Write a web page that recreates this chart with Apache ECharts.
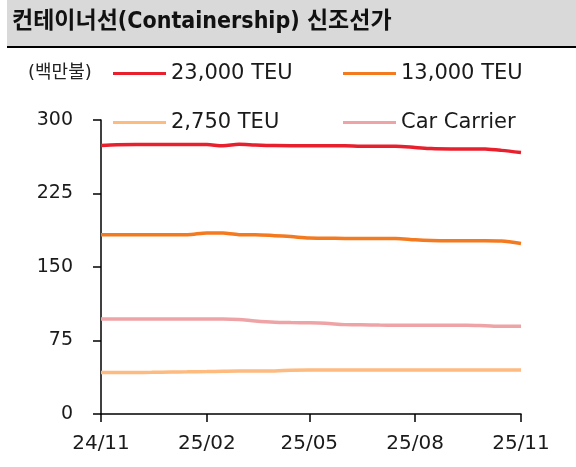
<!DOCTYPE html>
<html>
<head>
<meta charset="utf-8">
<script src="https://cdn.jsdelivr.net/npm/echarts@6/dist/echarts.min.js"></script>
<style>
  html, body { margin: 0; padding: 0; background: #fff; }
  #chart { width: 576px; height: 467px; }
</style>
</head>
<body>
<div id="chart"></div>
<script>
// 날짜 (반월 단위)
var dates = [
  '2024-11-01', '2024-11-15', '2024-12-01', '2024-12-15', '2025-01-01', '2025-01-15',
  '2025-02-01', '2025-02-15', '2025-03-01', '2025-03-15', '2025-04-01', '2025-04-15',
  '2025-05-01', '2025-05-15', '2025-06-01', '2025-06-15', '2025-07-01', '2025-07-15',
  '2025-08-01', '2025-08-15', '2025-09-01', '2025-09-15', '2025-10-01', '2025-10-15',
  '2025-11-01'
];
var teu23000 = [274, 274.8, 275, 275, 275, 275, 274.9, 273.6, 275.2, 274.5, 273.9, 273.8,
  273.8, 273.8, 273.8, 273.2, 273.2, 273.2, 272, 270.8, 270.5, 270.5, 270.3, 269, 266.8];
var teu13000 = [183, 183, 183, 183, 183, 183, 184.8, 184.6, 183, 183, 182, 181,
  179.5, 179.3, 179.2, 179.2, 179.2, 179.2, 177.7, 177, 176.8, 176.8, 176.8, 176.5, 174];
var teu2750 = [42.4, 42.4, 42.4, 42.5, 42.8, 43, 43.3, 43.6, 43.8, 43.8, 43.9, 44.6,
  44.8, 44.8, 44.8, 44.8, 44.8, 44.8, 44.8, 44.8, 44.8, 44.8, 44.8, 44.8, 44.8];
var carCarrier = [97, 97, 97, 97, 97, 97, 97, 97, 96.5, 95, 93.7, 93.3,
  93, 92.5, 91.2, 91, 90.7, 90.6, 90.6, 90.6, 90.6, 90.6, 90.1, 89.6, 89.6];
var xTicks = ['2024-11-01', '2025-02-01', '2025-05-01', '2025-08-01', '2025-11-01'];
var xTickLabels = ['24/11', '25/02', '25/05', '25/08', '25/11'];

var seriesNames = ['23,000 TEU', '13,000 TEU', '2,750 TEU', 'Car Carrier'];
var colors = ['#e8202e', '#f47a20', '#fdbb80', '#eea4a6'];
var seriesData = [teu23000, teu13000, teu2750, carCarrier];

var font = "'DejaVu Sans', 'Noto Sans CJK KR', sans-serif";
var ts = function (d) { return new Date(d + 'T00:00:00Z').getTime(); };
var tickTs = xTicks.map(ts);

var chart = echarts.init(document.getElementById('chart'));

// 범례 위치 (개별 배치)
var legendPos = [[113, 63], [343, 63], [113, 112], [343, 112]];

var option = {
  animation: false,
  textStyle: { fontFamily: font },
  graphic: [
    { type: 'rect', shape: { x: 7, y: 0, width: 569, height: 46 }, style: { fill: '#d9d9d9' } },
    { type: 'rect', shape: { x: 7, y: 46, width: 569, height: 2 }, style: { fill: '#000' } },
    { type: 'text', left: 12, top: 11,
      style: { text: '컨테이너선(Containership) 신조선가', fill: '#111',
        font: "bold 23px 'DejaVu Sans Condensed', 'Noto Sans CJK KR'" } },
    { type: 'text', left: 28, top: 64,
      style: { text: '(백만불)', fill: '#222', font: "18px 'DejaVu Sans', 'Noto Sans CJK KR'" } }
  ],
  legend: seriesNames.map(function (n, i) {
    return {
      data: [n],
      left: legendPos[i][0],
      top: legendPos[i][1],
      icon: 'rect',
      itemWidth: 53,
      itemHeight: 3,
      itemGap: 6,
      padding: 0,
      selectedMode: false,
      textStyle: { fontSize: 21, color: '#1a1a1a', fontFamily: font }
    };
  }),
  grid: { left: 101, right: 55, top: 120, bottom: 53, containLabel: false },
  xAxis: {
    type: 'value',
    min: tickTs[0],
    max: tickTs[tickTs.length - 1],
    axisLine: { lineStyle: { color: '#000', width: 1.5 } },
    axisTick: { show: true, length: 8, lineStyle: { color: '#000', width: 1.5 },
      customValues: tickTs },
    axisLabel: {
      customValues: tickTs,
      color: '#1a1a1a', fontSize: 20, margin: 20, fontFamily: font,
      formatter: function (v) {
        var k = tickTs.indexOf(v);
        return k >= 0 ? xTickLabels[k] : '';
      }
    },
    splitLine: { show: false }
  },
  yAxis: {
    type: 'value',
    min: 0, max: 300, interval: 75,
    axisLine: { show: true, lineStyle: { color: '#000', width: 1.5 } },
    axisTick: { show: true, length: 8, lineStyle: { color: '#000', width: 1.5 } },
    axisLabel: { color: '#1a1a1a', fontSize: 19, margin: 28, fontFamily: font },
    splitLine: { show: false }
  },
  series: seriesNames.map(function (n, i) {
    return {
      name: n,
      type: 'line',
      showSymbol: false,
      smooth: 0.3,
      color: colors[i],
      lineStyle: { width: 3.5, color: colors[i] },
      data: dates.map(function (d, k) { return [ts(d), seriesData[i][k]]; })
    };
  })
};
chart.setOption(option);
</script>
</body>
</html>
